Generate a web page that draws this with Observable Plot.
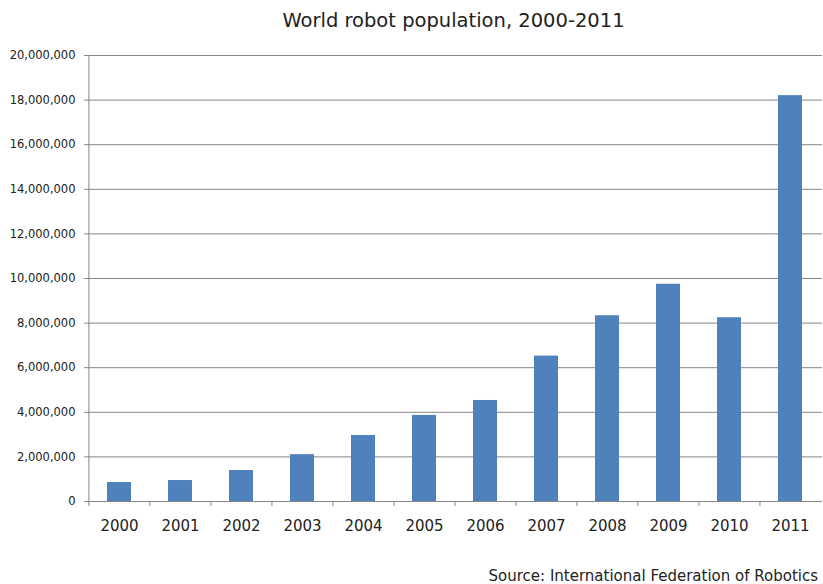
<!DOCTYPE html>
<html>
<head>
<meta charset="utf-8">
<script src="https://cdn.jsdelivr.net/npm/d3@7"></script>
<script src="https://cdn.jsdelivr.net/npm/@observablehq/plot@0.6"></script>
<style>
  body { margin: 0; background: #fff; font-family: "DejaVu Sans", Verdana, sans-serif; }
  #wrap { position: relative; width: 823px; height: 584px; overflow: hidden; }
  #title { position: absolute; top: 9px; left: 0; width: 823px; padding-left: 84px; box-sizing: border-box; text-align: center; font-size: 19.5px; color: #222; }
  #chart { position: absolute; top: 45px; left: 0; }
  #caption { position: absolute; top: 567px; right: 5px; font-size: 15px; color: #222; }
</style>
</head>
<body>
<div id="wrap">
  <div id="title">World robot population, 2000-2011</div>
  <div id="chart"></div>
  <div id="caption">Source: International Federation of Robotics</div>
</div>
<script>
const years = ["2000","2001","2002","2003","2004","2005","2006","2007","2008","2009","2010","2011"];
const robots = [850000, 940000, 1390000, 2100000, 2960000, 3860000, 4530000, 6520000, 8330000, 9740000, 8240000, 18200000];
const yTicks = [0, 2000000, 4000000, 6000000, 8000000, 10000000, 12000000, 14000000, 16000000, 18000000, 20000000];

const data = years.map((y, i) => ({year: y, value: robots[i]}));
const W = 823, ML = 88, MR = 1;
const step = (W - ML - MR) / years.length;

const plot = Plot.plot({
  width: W,
  height: 515,
  marginLeft: ML,
  marginRight: MR,
  marginTop: 10,
  marginBottom: 59,
  style: { fontFamily: "DejaVu Sans, Verdana, sans-serif", background: "#fff", color: "#222" },
  x: { domain: years, paddingInner: 0.6, paddingOuter: 0.3, label: null },
  y: { domain: [0, 20000000], label: null },
  marks: [
    Plot.gridY(yTicks, { stroke: "#868686", strokeOpacity: 1, strokeWidth: 1 }),
    Plot.axisY(yTicks, { tickSize: 4, tickPadding: 9, stroke: "#868686", fontSize: 11.5, tickFormat: d3.format(","), label: null }),
    Plot.axisX({ tickSize: 0, tickPadding: 19, fontSize: 15, label: null }),
    Plot.ruleX(years, { x: d => d, y1: 0, y2: 0, dx: -step / 2, insetBottom: -5, stroke: "#868686" }),
    Plot.barY(data, { x: "year", y: "value", fill: "#4F81BD" }),
    Plot.ruleY([0], { stroke: "#868686" }),
    Plot.ruleX([years[0]], { y1: 0, y2: 20000000, dx: -step / 2, stroke: "#868686" })
  ]
});
document.getElementById("chart").appendChild(plot);
</script>
</body>
</html>
